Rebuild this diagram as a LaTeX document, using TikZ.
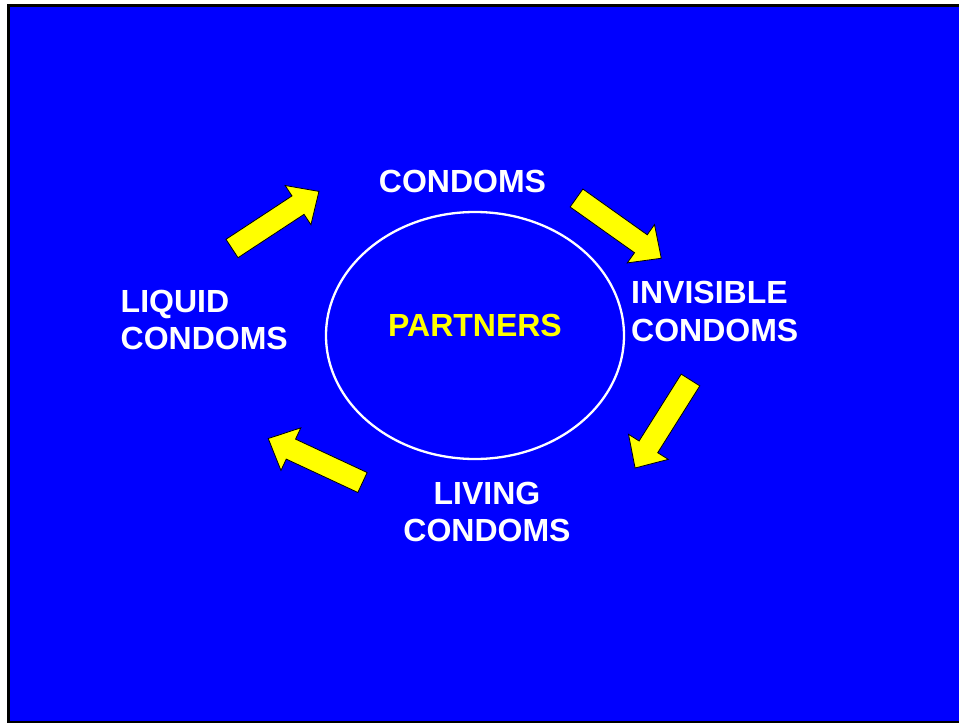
\documentclass[tikz,border=0pt]{standalone}
\usepackage{fontspec}
\setmainfont{Liberation Sans}
\usetikzlibrary{shapes.geometric}
\definecolor{bgblue}{RGB}{0,0,255}
\definecolor{ayellow}{RGB}{255,255,0}
\tikzset{
  lbl/.style={text=white, font=\fontsize{32}{37.5}\selectfont\bfseries, inner sep=0pt},
  centrelbl/.style={text=ayellow, font=\fontsize{32}{37.5}\selectfont\bfseries, inner sep=0pt},
  yarrow/.style={fill=ayellow, draw=black, line width=0.8pt, line join=miter},
  ring/.style={ellipse, draw=white, line width=2.3pt, minimum width=298pt, minimum height=247pt, inner sep=0pt},
  blockarrow/.pic={\draw[yarrow] (0,-11) -- (79,-11) -- (79,-23.5) -- (104,0) -- (79,23.5) -- (79,11) -- (0,11) -- cycle;}
}
\begin{document}
\begin{tikzpicture}[x=1pt,y=-1pt]
\useasboundingbox (0,0) rectangle (959,723);
\fill[black] (7,4) rectangle (965,723);
\fill[bgblue] (10,7) rectangle (965,721);

\node[ring] (partnersring) at (475,335.5) {};
\node[centrelbl] (partners) at (475,325.5) {PARTNERS};

\node[lbl] (condoms) at (462.5,181) {CONDOMS};
\node[lbl, align=left, anchor=west] (invisible) at (631,311.5) {INVISIBLE\\CONDOMS};
\node[lbl, align=center] (living) at (487,512) {LIVING\\CONDOMS};
\node[lbl, align=left, anchor=west] (liquid) at (120.5,320) {LIQUID\\CONDOMS};

\pic[rotate=33.3] (arrowA) at (232,248.5) {blockarrow};
\pic[rotate=-35.4] (arrowB) at (576.5,198) {blockarrow};
\pic[rotate=-122.2] (arrowC) at (690.5,380) {blockarrow};
\pic[rotate=155] (arrowD) at (362.5,482.5) {blockarrow};
\end{tikzpicture}
\end{document}
